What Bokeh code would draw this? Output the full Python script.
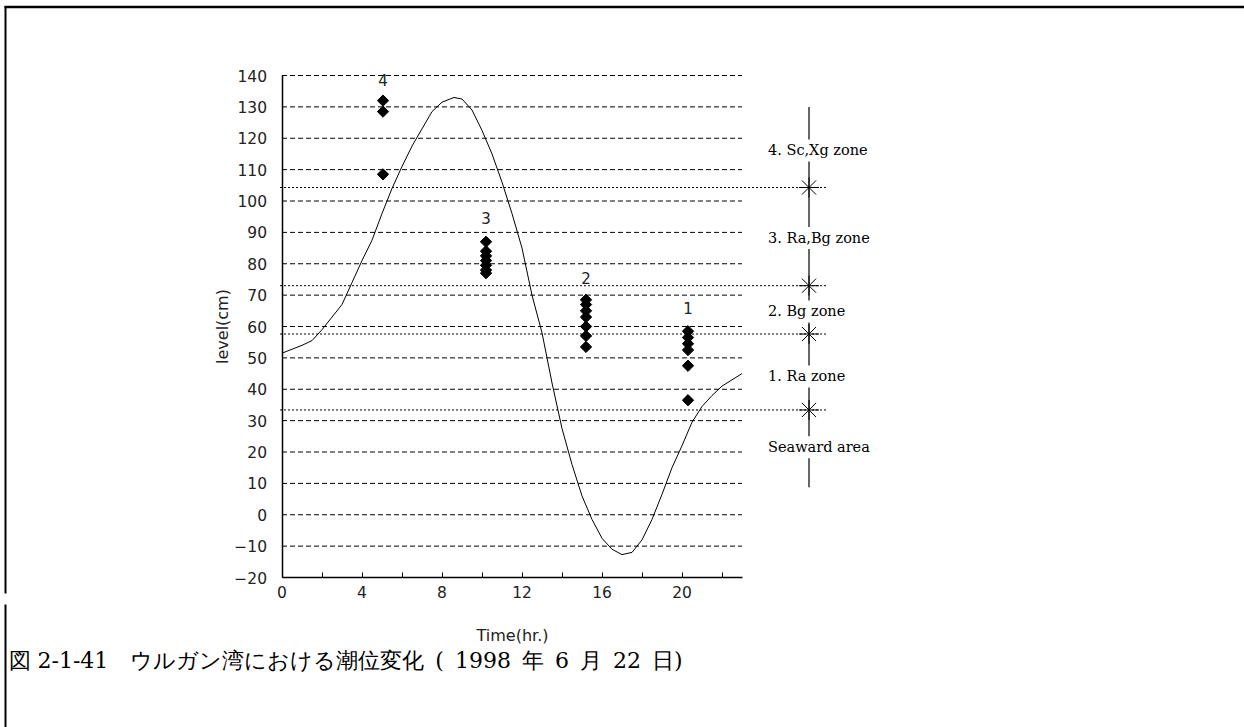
import numpy as np
from bokeh.plotting import figure
from bokeh.models import Range1d, FixedTicker
from bokeh.core.properties import value
from bokeh.embed import file_html
from bokeh.resources import INLINE

# Tide record: hours after midnight and water level (cm)
tide_hr = [0, 1, 1.5, 2, 2.5, 3, 3.5, 4, 4.5, 5, 5.5, 6, 6.5, 7, 7.5, 8, 8.6,
           9, 9.5, 10, 10.5, 11, 11.5, 12, 12.5, 13, 13.5, 14, 14.5, 15, 15.5,
           16, 16.5, 17, 17.5, 18, 18.5, 19, 19.5, 20, 20.5, 21, 21.5, 22, 23]
tide_cm = [51.5, 54, 55.5, 59, 63, 67, 74, 81, 87.5, 96, 104, 111, 117.5, 123,
           128.5, 131.5, 133, 132.5, 129, 122.5, 115, 106, 96, 85, 70, 58, 42,
           27.5, 16, 6, -1.5, -7.5, -11, -12.7, -12, -8, -1.5, 6.5, 15, 22,
           29.5, 34.5, 38, 41, 45]

# Observed plant levels at the four survey sites
site_names = ["1", "2", "3", "4"]
site_hr = [20.3, 15.2, 10.2, 5.05]
site1_cm = [58.5, 56.5, 54.5, 52.5, 47.5, 36.5]
site2_cm = [68.5, 67, 65, 63, 60, 57, 53.5]
site3_cm = [87, 84, 82.5, 81, 79.5, 78, 77]
site4_cm = [132, 128.5, 108.5]
site_name_cm = [66, 75.5, 94.6, 138.7]

# Vegetation zones
zone_bounds_cm = [104.3, 73.0, 57.6, 33.4]
zone_names = ["4. Sc,Xg zone", "3. Ra,Bg zone", "2. Bg zone", "1. Ra zone", "Seaward area"]
zone_name_cm = [116.1, 88.2, 64.8, 44.1, 21.5]

grid_cm = list(range(-10, 150, 10))
x_major = [0, 4, 8, 12, 16, 20]
x_minor = [2, 6, 10, 14, 18, 22]
y_ticks = list(range(-20, 150, 10))

caption = "図 2-1-41　ウルガン湾における潮位変化\u2002(\u20021998\u2002年\u20026\u2002月\u200222\u2002日)"

# ---- page geometry -------------------------------------------------------
W, H = 1244, 727
PX_HR, PX_CM = 20.0, 3.1375          # pixels per hour / per cm
X0_PX, YMIN_PX = 281.5, 577.0        # pixel of t=0 and of level=-20
T_MAX, L_MIN, L_MAX = 23, -20, 140

x_start = -X0_PX / PX_HR
x_end = (W - X0_PX) / PX_HR
y_start = L_MIN - (H - YMIN_PX) / PX_CM
y_end = L_MIN + YMIN_PX / PX_CM


def page_x(px):
    return x_start + px / PX_HR


def page_y(py):
    return y_end - py / PX_CM


p = figure(width=W, height=H, x_range=Range1d(x_start, x_end),
           y_range=Range1d(y_start, y_end), output_backend="svg",
           toolbar_location=None, title=None, min_border=0)
p.outline_line_color = None
p.background_fill_color = "white"
p.border_fill_color = "white"
p.xgrid.visible = False
p.ygrid.visible = False

# page frame (top and left rules)
p.line([page_x(4), page_x(W)], [page_y(6.5), page_y(6.5)], line_color="black", line_width=2.5)
p.line([page_x(5), page_x(5)], [page_y(6), page_y(593)], line_color="black", line_width=2)
p.line([page_x(5), page_x(5)], [page_y(604), page_y(H)], line_color="black", line_width=2)

# dashed level grid
n = len(grid_cm)
p.segment(x0=[0] * n, y0=grid_cm, x1=[T_MAX] * n, y1=grid_cm,
          line_color="black", line_width=1, line_dash="5 3")

# zone boundaries (dotted) and the zone scale on the right
zone_x = 26.35
m = len(zone_bounds_cm)
p.segment(x0=[-0.1] * m, y0=zone_bounds_cm, x1=[27.3] * m, y1=zone_bounds_cm,
          line_color="black", line_width=1, line_dash="2 2")

scale_top, scale_bottom = 130, 8.8
gap = 11 / PX_CM
ends = [scale_top] + [c for y in zone_name_cm for c in (y + gap, y - gap)] + [scale_bottom]
seg_top = ends[0::2]
seg_bot = ends[1::2]
p.segment(x0=[zone_x] * len(seg_top), y0=seg_top, x1=[zone_x] * len(seg_top), y1=seg_bot,
          line_color="black", line_width=1.2)
p.scatter([zone_x] * m, zone_bounds_cm, marker="asterisk", size=20,
          line_color="black", line_width=1)
p.text([24.3] * len(zone_names), zone_name_cm, text=zone_names,
       text_font=value("DejaVu Serif"), text_font_size="14.5px",
       text_align="left", text_baseline="middle", text_color="black")

# tide curve
p.line(tide_hr, tide_cm, line_color="black", line_width=1)

# survey sites
for t, levels in zip(site_hr, [site1_cm, site2_cm, site3_cm, site4_cm]):
    p.scatter([t] * len(levels), levels, marker="square", angle=np.pi / 4,
              size=8, color="black")
p.text(site_hr, site_name_cm, text=site_names, text_font=value("DejaVu Sans"),
       text_font_size="15px", text_align="center", text_baseline="middle",
       text_color="#222222")

# axes drawn at the data origin
ax = p.xaxis[0]
ax.fixed_location = L_MIN
ax.bounds = (0, T_MAX)
ax.ticker = FixedTicker(ticks=x_major, minor_ticks=x_minor)
ax.major_tick_in = 5
ax.major_tick_out = 0
ax.minor_tick_in = 5
ax.minor_tick_out = 0
ax.major_label_standoff = 8
ax.axis_label = "Time(hr.)"
ax.axis_label_standoff = 25

ay = p.yaxis[0]
ay.fixed_location = 0
ay.bounds = (L_MIN, L_MAX)
ay.ticker = FixedTicker(ticks=y_ticks, minor_ticks=[])
ay.major_tick_in = 0
ay.major_tick_out = 0
ay.minor_tick_in = 0
ay.minor_tick_out = 0
ay.major_label_standoff = 15
ay.axis_label = "level(cm)"
ay.axis_label_standoff = 0

for a in (ax, ay):
    a.axis_line_color = "black"
    a.axis_line_width = 1.5
    a.major_tick_line_color = "black"
    a.minor_tick_line_color = "black"
    a.major_label_text_font = "DejaVu Sans"
    a.major_label_text_font_size = "15.5px"
    a.major_label_text_color = "#222222"
    a.axis_label_text_font = "DejaVu Sans"
    a.axis_label_text_font_size = "16px"
    a.axis_label_text_font_style = "normal"
    a.axis_label_text_color = "#222222"

# figure caption
p.text([page_x(8)], [page_y(660)], text=[caption],
       text_font=value("DejaVu Serif"), text_font_size="22px",
       text_align="left", text_baseline="middle", text_color="black")

open("out.html", "w").write(file_html(p, INLINE))
